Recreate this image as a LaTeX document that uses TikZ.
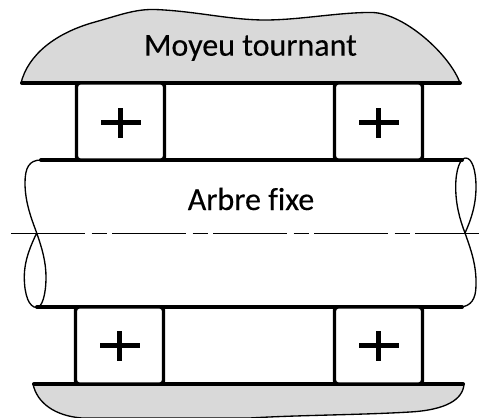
\documentclass[tikz,border=0pt]{standalone}
\usepackage{fontspec}
\setmainfont[Ligatures=NoCommon,FakeBold=0.25]{Carlito}
\definecolor{hub}{gray}{0.85}
\tikzset{
  heavy/.style={line width=3pt,line cap=round},
  thin line/.style={line width=1pt},
  roller/.style={draw=black,line width=2.6pt,rounded corners=2.5pt,minimum width=66pt,minimum height=57.75pt,inner sep=0pt,outer sep=0pt,anchor=north west,fill=white},
  label/.style={font=\fontsize{24}{28}\selectfont,inner sep=0pt}
}
\begin{document}
\begin{tikzpicture}[x=0.75pt,y=-0.75pt]
\useasboundingbox (0,0) rectangle (479,418);
\fill[white] (0,0) rectangle (479,418);
% top hub
\draw[thin line,fill=hub] (21,83) .. controls (28,55) and (55,33) .. (95,22) .. controls (120,15) and (135,9) .. (155,9.5) .. controls (195,11) and (230,20) .. (265,20) .. controls (300,20) and (340,12) .. (373,12.5) .. controls (405,14) and (450,55) .. (460,83) -- cycle;
% bottom hub
\draw[thin line,fill=hub] (33,384) .. controls (37,403) and (55,416) .. (82,418) -- (250,418) .. controls (300,415) and (360,415) .. (410,412) .. controls (445,410) and (463,400) .. (464,384) -- cycle;
% shaft
\draw[thin line] (41,160) .. controls (29,160) and (25,168) .. (25,183) .. controls (25,203) and (32,220) .. (36.7,233) .. controls (42,248) and (46,262) .. (46,277) .. controls (46,295) and (42,307.5) .. (36.7,307.5) .. controls (29,307.5) and (24.3,295) .. (24.3,277) .. controls (24.3,260) and (31,245) .. (36.7,233);
\draw[thin line] (465.7,158) .. controls (460,158) and (455.7,170) .. (455.7,187) .. controls (455.7,205) and (460,220) .. (465,233) .. controls (471,250) and (476.5,265) .. (476,285) .. controls (476,299) and (471,306.5) .. (460,307);
\draw[thin line] (465.7,158) .. controls (472,158) and (476,170) .. (476,187) .. controls (476,205) and (471,220) .. (465,233);
\draw[heavy] (41,160) -- (462,160);
\draw[heavy] (37,307) -- (462,307);
% centre line
\draw[thin line,dash pattern=on 55.5pt off 4.9pt on 11.25pt off 4.1pt] (11,233.5) -- (479,233.5);
% bars
\draw[heavy] (22,83) -- (460,83);
\draw[heavy] (34,384) -- (463,384);
% rollers
\node[roller] (r1) at (76.5,83) {};
\node[roller] (r2) at (334.5,83) {};
\node[roller] (r3) at (75.5,307) {};
\node[roller] (r4) at (334.5,307) {};
\foreach \n/\d in {r1/-0.8pt,r2/-0.8pt,r3/0pt,r4/0pt}{
  \fill[black] ([shift={(-15pt,-1.7pt+\d)}]\n.center) rectangle ([shift={(15pt,1.7pt+\d)}]\n.center);
  \fill[black] ([shift={(-1.7pt,-11.25pt+\d)}]\n.center) rectangle ([shift={(1.7pt,11.25pt+\d)}]\n.center);
}
\node[label] (hubtext) at (250.5,48) {Moyeu tournant};
\node[label] (shafttext) at (251,199) {Arbre fixe};
\end{tikzpicture}
\end{document}
